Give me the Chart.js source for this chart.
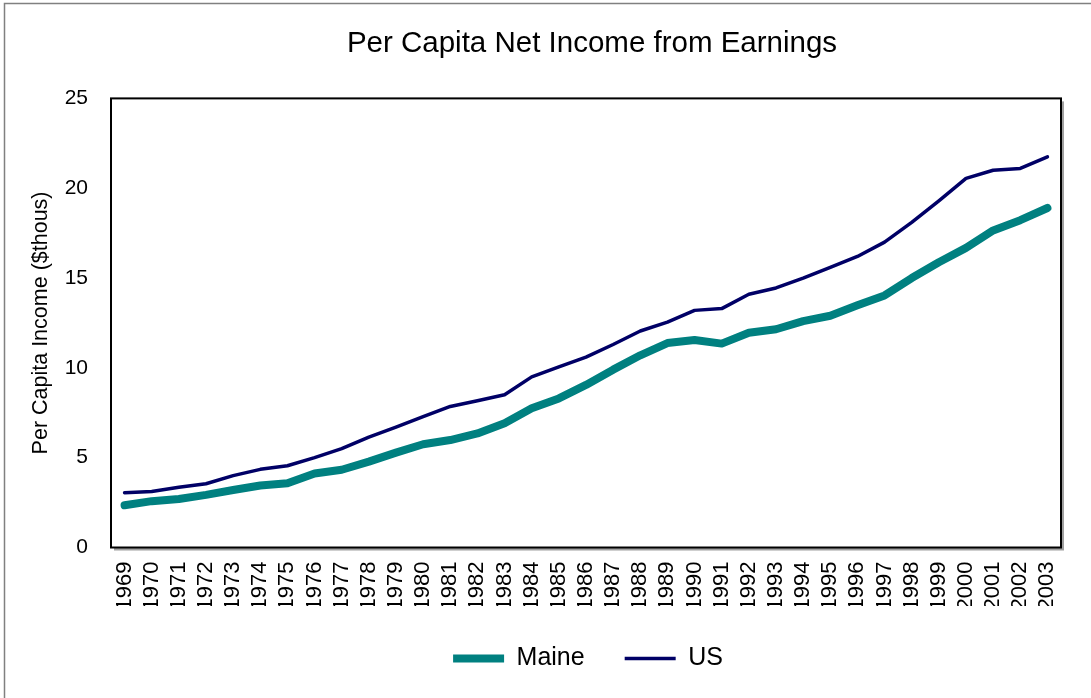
<!DOCTYPE html>
<html>
<head>
<meta charset="utf-8">
<script src="https://cdn.jsdelivr.net/npm/chart.js@4.4.0/dist/chart.umd.min.js"></script>
<style>
  html, body { margin: 0; padding: 0; background: #fff; }
  #wrap { width: 1091px; height: 698px; }
</style>
</head>
<body>
<div id="wrap"><canvas id="chart" width="1091" height="698"></canvas></div>
<script>
const years = ['1969', '1970', '1971', '1972', '1973', '1974', '1975', '1976', '1977', '1978',
    '1979', '1980', '1981', '1982', '1983', '1984', '1985', '1986', '1987', '1988',
    '1989', '1990', '1991', '1992', '1993', '1994', '1995', '1996', '1997', '1998',
    '1999', '2000', '2001', '2002', '2003'];

const maine = [2.35, 2.58, 2.7, 2.93, 3.2, 3.45, 3.58, 4.12, 4.33, 4.78,
    5.28, 5.75, 5.98, 6.35, 6.92, 7.75, 8.3, 9.05, 9.9, 10.7,
    11.38, 11.55, 11.35, 11.95, 12.15, 12.6, 12.9, 13.48, 14.03, 15.0,
    15.88, 16.68, 17.65, 18.22, 18.9];

const us = [3.05, 3.12, 3.35, 3.55, 4.0, 4.35, 4.55, 5.0, 5.5, 6.15,
    6.7, 7.28, 7.85, 8.17, 8.5, 9.5, 10.05, 10.6, 11.3, 12.05,
    12.55, 13.2, 13.3, 14.1, 14.45, 15.0, 15.6, 16.2, 17.0, 18.1,
    19.3, 20.55, 21.0, 21.1, 21.75];

const FONT = "'Liberation Sans', Arial, sans-serif";

function centerBox(box, cx) {
    const shift = cx - (box.left + box.right) / 2;
    box.left += shift;
    box.right += shift;
}

// plot frame with a little drop shadow, plus the outer grey frame
const framePlugin = {
    id: 'frame',
    afterLayout(chart) {
        // title and legend are centred on the plot, not on the whole canvas
        centerBox(chart.titleBlock, 592);
        centerBox(chart.legend, 588);
    },
    beforeDatasetsDraw(chart) {
        const { ctx, chartArea: a } = chart;
        ctx.save();
        ctx.strokeStyle = '#808080';
        ctx.lineWidth = 1.5;
        ctx.strokeRect(4.5, 3.5, 2000, 2000);
        ctx.fillStyle = '#a0a0a0';
        ctx.fillRect(a.left + 3, a.top + 3, a.right - a.left, a.bottom - a.top);
        ctx.fillStyle = '#fff';
        ctx.fillRect(a.left, a.top, a.right - a.left, a.bottom - a.top);
        ctx.strokeStyle = '#000';
        ctx.lineWidth = 2;
        ctx.strokeRect(a.left, a.top, a.right - a.left, a.bottom - a.top);
        ctx.restore();
    }
};

new Chart(document.getElementById('chart'), {
    type: 'line',
    data: {
        labels: years,
        datasets: [{
            label: 'Maine',
            data: maine,
            borderColor: '#008080',
            backgroundColor: '#008080',
            borderWidth: 8,
            borderCapStyle: 'round',
            borderJoinStyle: 'round',
            pointRadius: 0,
            tension: 0,
            fill: false
        }, {
            label: 'US',
            data: us,
            borderColor: '#000066',
            backgroundColor: '#000066',
            borderWidth: 3.5,
            borderCapStyle: 'round',
            borderJoinStyle: 'round',
            pointRadius: 0,
            tension: 0,
            fill: false
        }]
    },
    options: {
        responsive: false,
        animation: false,
        layout: { padding: { left: 4, right: 30, top: 0, bottom: 17 } },
        plugins: {
            title: {
                display: true,
                text: 'Per Capita Net Income from Earnings',
                color: '#000',
                font: { family: FONT, size: 29.5, weight: 'normal' },
                padding: { top: 26, bottom: 37 }
            },
            legend: {
                position: 'bottom',
                labels: {
                    usePointStyle: true,
                    pointStyle: 'line',
                    pointStyleWidth: 51,
                    padding: 40,
                    color: '#000',
                    font: { family: FONT, size: 25 }
                }
            },
            tooltip: { enabled: false }
        },
        scales: {
            x: {
                offset: true,
                grid: { display: false, drawTicks: false, offset: true },
                border: { display: false },
                ticks: {
                    autoSkip: false,
                    minRotation: 90,
                    maxRotation: 90,
                    padding: 14,
                    color: '#000',
                    font: { family: FONT, size: 22 }
                },
                afterFit(scale) { scale.height = 58.5; }
            },
            y: {
                min: 0,
                max: 25,
                grid: { display: false, drawTicks: false },
                border: { display: false },
                ticks: {
                    stepSize: 5,
                    padding: 23,
                    color: '#000',
                    font: { family: FONT, size: 21 }
                },
                title: {
                    display: true,
                    text: 'Per Capita Income ($thous)',
                    color: '#000',
                    font: { family: FONT, size: 21.5 },
                    padding: { top: 24, bottom: 0 }
                },
                afterFit(scale) { scale.width = 107; }
            }
        }
    },
    plugins: [framePlugin]
});
</script>
</body>
</html>
